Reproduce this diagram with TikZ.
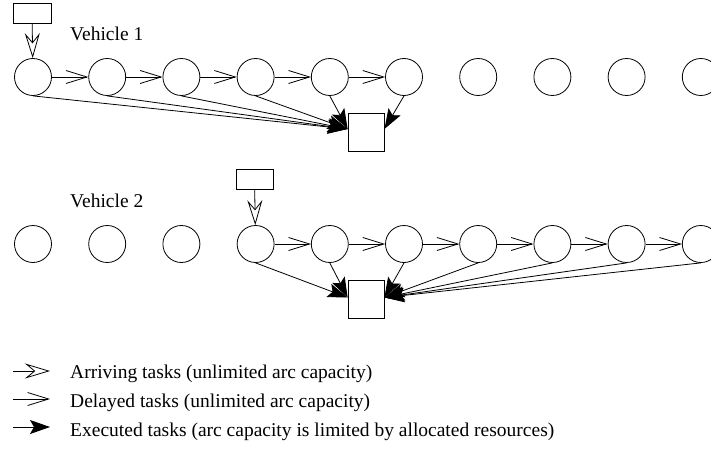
\documentclass[tikz,border=0pt]{standalone}
\usepackage{fontspec}
\setmainfont{Liberation Serif}
\usetikzlibrary{arrows.meta,calc}
\begin{document}
\begin{tikzpicture}[x=1pt,y=-1pt,
  every node/.style={font=\fontsize{19.5}{23}\selectfont},
  state/.style={circle, draw, line width=0.8pt, minimum size=37pt, inner sep=0pt},
  sink/.style={rectangle, draw, line width=0.8pt, minimum width=36pt, minimum height=38pt, inner sep=0pt},
  src/.style={rectangle, draw, line width=0.8pt, minimum width=38pt, minimum height=20pt, inner sep=0pt},
  arrive/.style={line width=0.8pt, -{Stealth[open, length=25pt, width=15pt, inset=9pt]}},
  delay/.style={line width=0.8pt, -{Straight Barb[length=21pt, width=13pt]}},
  exec/.style={line width=0.8pt, -{Stealth[length=20pt, width=14pt, inset=4pt]}},
  lbl/.style={anchor=base west, inner sep=0pt}
]
\useasboundingbox (0,0) rectangle (711,460);
\clip (0,0) rectangle (711,460);
\foreach \k in {0,...,9} {
  \node[state] (a\k) at ({33+74.2*\k},77) {};
  \node[state] (b\k) at ({33+74.2*\k},244) {};
}
\node[sink] (s1) at (366,132) {};
\node[sink] (s2) at (366,299.5) {};
\node[src] (p1) at (32,13) {};
\node[src, minimum width=37pt] (p2) at (254.5,179) {};
\coordinate (s1L) at ([yshift=3pt]s1.west);
\coordinate (s1R) at ([yshift=3pt]s1.east);
\coordinate (s2L) at ([yshift=2pt]s2.west);
\coordinate (s2R) at ([yshift=2pt]s2.east);

\node[lbl] (v1) at (70,41) {Vehicle 1};
\node[lbl] (v2) at (70,207) {Vehicle 2};

% vehicle 1
\draw[arrive] (p1) -- (a0);
\foreach \k/\n in {0/1,1/2,2/3,3/4,4/5} \draw[delay] (a\k) -- (a\n);
\foreach \k in {0,...,4} \draw[exec] (a\k.south) -- (s1L);
\draw[exec] (a5.south) -- (s1R);

% vehicle 2
\draw[arrive] (p2) -- (b3);
\foreach \k/\n in {3/4,4/5,5/6,6/7,7/8,8/9} \draw[delay] (b\k) -- (b\n);
\foreach \k in {3,4} \draw[exec] (b\k.south) -- (s2L);
\foreach \k in {5,...,9} \draw[exec] (b\k.south) -- (s2R);

% legend
\coordinate (l1s) at (13,371); \coordinate (l1e) at (50,371);
\coordinate (l2s) at (13,399); \coordinate (l2e) at (50,399);
\coordinate (l3s) at (13,427); \coordinate (l3e) at (50,427);
\draw[arrive] (l1s) -- (l1e);
\draw[delay] (l2s) -- (l2e);
\draw[exec] (l3s) -- (l3e);
\node[lbl] (t1) at (70,378) {Arriving tasks (unlimited arc capacity)};
\node[lbl] (t2) at (70,407) {Delayed tasks (unlimited arc capacity)};
\node[lbl] (t3) at (70,436) {Executed tasks (arc capacity is limited by allocated resources)};
\end{tikzpicture}
\end{document}
